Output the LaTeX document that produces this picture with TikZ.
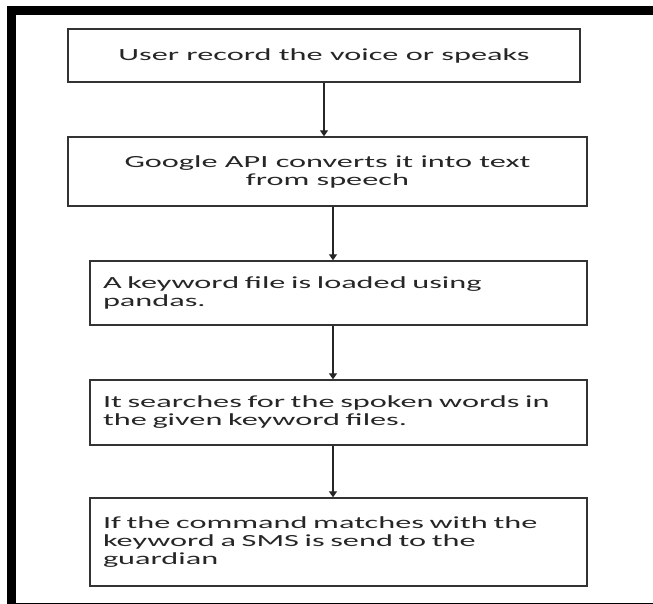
\documentclass[tikz,border=0pt]{standalone}
\usepackage{fontspec}
\setmainfont{Carlito}[FakeStretch=1.9]
\usetikzlibrary{arrows.meta}

\begin{document}
\begin{tikzpicture}[x=1pt,y=-1pt,
                    flow box/.style={draw=black!80,line width=1.4pt,inner sep=0pt,
                                     font=\fontsize{17}{18}\selectfont,text=black!85},
                    left box/.style={flow box,minimum width=497pt,text width=471pt,align=left},
                    flow arrow/.style={draw=black!85,line width=1.3pt,-{Triangle[length=6pt,width=8pt]}}
                   ]
  \useasboundingbox (0,0) rectangle (653,603);
  \clip (0,0) rectangle (653,603);
  \draw[line width=9pt] (11,10.5) rectangle (662,607.5); % outer frame
  \node[flow box,minimum width=512pt,minimum height=53pt] (b1) at (324,55.5)
    {User record the voice or speaks};
  \node[flow box,minimum width=519pt,minimum height=69pt,align=center] (b2) at (327.5,171.5)
    {Google API converts it into text\\from speech};
  \node[left box,minimum height=64pt] (b3) at (338.5,293)
    {A keyword file is loaded using\\pandas.};
  \node[left box,minimum height=65pt] (b4) at (338.5,412.5)
    {It searches for the spoken words in\\the given keyword files.};
  \node[left box,minimum height=88pt] (b5) at (338.5,542)
    {If the command matches with the\\keyword a SMS is send to the\\guardian};
  \coordinate (axis) at (333,0);
  \path
    (b1.south) edge[flow arrow] (b1.south |- b2.north)
    (b2.south -| axis) edge[flow arrow] (b3.north -| axis)
    (b3.south -| axis) edge[flow arrow] (b4.north -| axis)
    (b4.south -| axis) edge[flow arrow] (b5.north -| axis);
\end{tikzpicture}
\end{document}
